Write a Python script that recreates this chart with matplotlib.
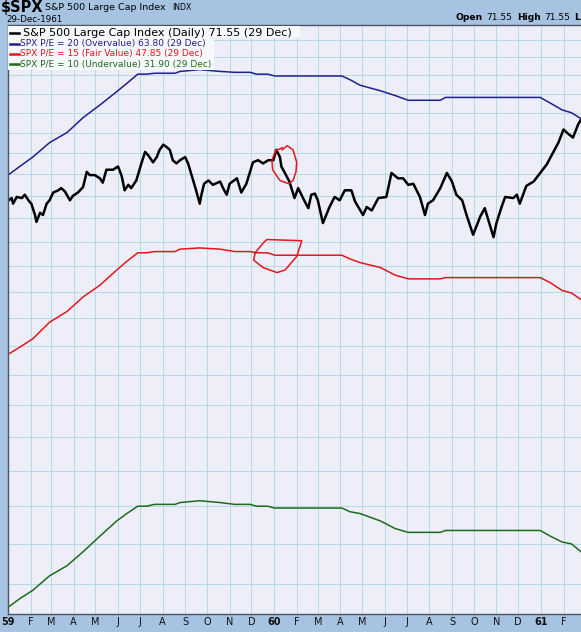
import matplotlib
matplotlib.use("Agg")
import matplotlib.pyplot as plt
from matplotlib.lines import Line2D
from matplotlib.patches import Rectangle
import numpy as np
import pandas as pd

# S&P 500 close
spx_dates = ["1959-01-02", "1959-01-06", "1959-01-08", "1959-01-13", "1959-01-20", "1959-01-24",
             "1959-01-29", "1959-02-02", "1959-02-07", "1959-02-09", "1959-02-14", "1959-02-18",
             "1959-02-23", "1959-02-27", "1959-03-04", "1959-03-11", "1959-03-15", "1959-03-20",
             "1959-03-27", "1959-03-31", "1959-04-07", "1959-04-14", "1959-04-19", "1959-04-23",
             "1959-04-30", "1959-05-07", "1959-05-11", "1959-05-16", "1959-05-25", "1959-06-01",
             "1959-06-06", "1959-06-10", "1959-06-15", "1959-06-19", "1959-06-26", "1959-07-03",
             "1959-07-08", "1959-07-12", "1959-07-19", "1959-07-24", "1959-07-28", "1959-08-02",
             "1959-08-06", "1959-08-11", "1959-08-15", "1959-08-20", "1959-08-25", "1959-09-01",
             "1959-09-05", "1959-09-12", "1959-09-16", "1959-09-21", "1959-09-23", "1959-09-27",
             "1959-10-03", "1959-10-09", "1959-10-19", "1959-10-23", "1959-10-28", "1959-11-01",
             "1959-11-11", "1959-11-17", "1959-11-24", "1959-12-03", "1959-12-10", "1959-12-17",
             "1959-12-24", "1959-12-31",
             "1960-01-04", "1960-01-09", "1960-01-11", "1960-01-15", "1960-01-22", "1960-01-29",
             "1960-02-03", "1960-02-12", "1960-02-17", "1960-02-21", "1960-02-26", "1960-03-01",
             "1960-03-08", "1960-03-17", "1960-03-24", "1960-03-31", "1960-04-07", "1960-04-16",
             "1960-04-21", "1960-05-02", "1960-05-07", "1960-05-14", "1960-05-23", "1960-06-03",
             "1960-06-10", "1960-06-19", "1960-06-26", "1960-07-03", "1960-07-10", "1960-07-19",
             "1960-07-26", "1960-07-30", "1960-08-06", "1960-08-16", "1960-08-25", "1960-09-01",
             "1960-09-07", "1960-09-15", "1960-09-21", "1960-09-30", "1960-10-10", "1960-10-16",
             "1960-10-28", "1960-11-01", "1960-11-08", "1960-11-13", "1960-11-24", "1960-11-29",
             "1960-12-03", "1960-12-12", "1960-12-22", "1960-12-31",
             "1961-01-09", "1961-01-16", "1961-01-25", "1961-02-01", "1961-02-07", "1961-02-14",
             "1961-02-21", "1961-02-25"]
spx_close = [55.6, 55.8, 55.3, 55.9, 55.8, 56.1,
             55.6, 55.3, 54.3, 53.7, 54.5, 54.3,
             55.3, 55.6, 56.3, 56.5, 56.7, 56.4,
             55.6, 56.0, 56.3, 56.8, 58.2, 57.9,
             57.9, 57.6, 57.2, 58.4, 58.4, 58.7,
             57.8, 56.5, 57.0, 56.7, 57.4, 59.0,
             60.1, 59.8, 59.1, 59.6, 60.3, 60.8,
             60.6, 60.3, 59.3, 59.0, 59.3, 59.6,
             59.0, 57.4, 56.5, 55.3, 56.0, 57.1,
             57.4, 57.0, 57.3, 56.7, 56.1, 57.1,
             57.6, 56.3, 57.1, 59.1, 59.3, 59.0,
             59.3, 59.3,
             60.3, 59.6, 58.7, 58.2, 57.3, 55.8,
             56.7, 55.5, 54.9, 56.1, 56.2, 55.6,
             53.6, 55.0, 55.9, 55.6, 56.5, 56.5,
             55.5, 54.3, 55.0, 54.7, 55.8, 55.9,
             58.1, 57.6, 57.6, 57.0, 57.1, 55.9,
             54.3, 55.3, 55.6, 56.7, 58.1, 57.3,
             56.1, 55.6, 54.3, 52.6, 54.2, 54.9,
             52.4, 53.6, 55.0, 55.9, 55.8, 56.1,
             55.3, 56.9, 57.3, 58.1,
             58.9, 59.8, 61.0, 62.3, 61.9, 61.5,
             62.8, 63.3]

# P/E bands
pe_dates = ["1959-01-01", "1959-01-17", "1959-02-04", "1959-02-27", "1959-03-23", "1959-04-14",
            "1959-05-07", "1959-05-30", "1959-06-13", "1959-06-28", "1959-07-10", "1959-07-21",
            "1959-08-18", "1959-08-25", "1959-09-21", "1959-10-19", "1959-11-08", "1959-11-29",
            "1959-12-08", "1959-12-23", "1960-01-02", "1960-04-03", "1960-04-14", "1960-04-28",
            "1960-05-26", "1960-06-15", "1960-07-03", "1960-08-16", "1960-08-23", "1960-12-31",
            "1961-01-14", "1961-01-30", "1961-02-12", "1961-02-25"]
pe20 = [57.9, 58.7, 59.6, 61.0, 62.0, 63.5, 64.8, 66.2, 67.1, 68.1, 68.1, 68.2, 68.2, 68.4, 68.6, 68.4, 68.3,
        68.3, 68.1, 68.1, 67.9, 67.9, 67.5, 66.9, 66.3, 65.8, 65.3, 65.3, 65.6, 65.6, 65.0, 64.3, 64.0, 63.4]
pe15 = [43.4, 43.9, 44.5, 45.7, 46.5, 47.6, 48.5, 49.7, 50.4, 51.1, 51.1, 51.2, 51.2, 51.4, 51.5, 51.4, 51.2,
        51.2, 51.1, 51.1, 50.9, 50.9, 50.6, 50.3, 49.9, 49.3, 49.0, 49.0, 49.1, 49.1, 48.7, 48.1, 47.9, 47.4]
pe10 = [28.9, 29.3, 29.7, 30.4, 30.9, 31.6, 32.4, 33.2, 33.6, 34.0, 34.0, 34.1, 34.1, 34.2, 34.3, 34.2, 34.1,
        34.1, 34.0, 34.0, 33.9, 33.9, 33.7, 33.6, 33.2, 32.8, 32.6, 32.6, 32.7, 32.7, 32.4, 32.1, 32.0, 31.6]

# hand-drawn red marks on the chart
mark1_dates = ["1960-01-12", "1960-01-19", "1960-01-27", "1960-02-01", "1960-01-31", "1960-01-27",
               "1960-01-21", "1960-01-09", "1959-12-30", "1959-12-29", "1960-01-03", "1960-01-12"]
mark1_vals = [60.3, 60.7, 60.3, 59.1, 58.2, 57.4, 57.1, 57.4, 58.4, 59.3, 60.2, 60.5]
mark2_dates = ["1959-12-06", "1959-12-17", "1959-12-22", "1960-02-08", "1960-02-01", "1960-01-16",
               "1960-01-05", "1959-12-17", "1959-12-04", "1959-12-06"]
mark2_vals = [51.1, 51.9, 52.2, 52.1, 50.8, 49.7, 49.5, 49.9, 50.5, 51.1]

legend_rows = ["S&P 500 Large Cap Index (Daily) 71.55 (29 Dec)",
               "SPX P/E = 20 (Overvalue) 63.80 (29 Dec)",
               "SPX P/E = 15 (Fair Value) 47.85 (29 Dec)",
               "SPX P/E = 10 (Undervalue) 31.90 (29 Dec)"]

BAND = "#A6C3E1"
PLOTBG = "#EDEEF7"
GRID = "#B2DAE8"
C_BLACK, C_BLUE, C_RED, C_GREEN = "#000000", "#1F1F8F", "#E3161C", "#1D6B1D"

W, H = 581, 632
def fx(px):
    return px / W
def fy(py):
    return 1 - py / H

fig = plt.figure(figsize=(W / 100, H / 100), dpi=100, facecolor=BAND)
ax = fig.add_axes([fx(8), fy(614), fx(573), (614 - 25) / H])
ax.set_facecolor(PLOTBG)

d_spx = pd.to_datetime(spx_dates)
d_pe = pd.to_datetime(pe_dates)

ax.plot(d_pe, pe20, color=C_BLUE, lw=1.1)
ax.plot(d_pe, pe15, color=C_RED, lw=1.1)
ax.plot(d_pe, pe10, color=C_GREEN, lw=1.1)
ax.plot(d_spx, spx_close, color=C_BLACK, lw=1.8)
ax.plot(pd.to_datetime(mark1_dates), mark1_vals, color="#E8141C", lw=1.1)
ax.plot(pd.to_datetime(mark2_dates), mark2_vals, color="#E8141C", lw=1.1)

ax.set_yscale("log")
ax.set_ylim(28.59, 73.7)
ax.set_xlim(pd.Timestamp("1959-01-01"), pd.Timestamp("1961-02-25"))
ax.yaxis.set_minor_locator(matplotlib.ticker.NullLocator())
ax.set_yticks(np.arange(30, 73, 2))
ax.set_yticklabels([])

months = pd.date_range("1959-01-01", "1961-02-01", freq="MS")
labels = [d.strftime("%y") if d.month == 1 else d.strftime("%b")[0] for d in months]
ax.set_xticks(months)
ax.set_xticklabels(labels)
for lab in ax.get_xticklabels():
    if lab.get_text().isdigit():
        lab.set_fontweight("bold")
ax.tick_params(axis="x", length=0, pad=2.5, labelsize=7, colors="#111111")
ax.tick_params(axis="y", length=0)
ax.grid(True, color=GRID, lw=0.7)
ax.set_axisbelow(True)
for s in ["left", "top", "bottom"]:
    ax.spines[s].set_color("#4B5563")
    ax.spines[s].set_linewidth(1.0)
ax.spines["right"].set_visible(False)

# legend box
fig.add_artist(Rectangle((fx(8), fy(38)), fx(292), 12 / H, transform=fig.transFigure,
                         facecolor="#F7F8FC", edgecolor="none", zorder=5))
fig.add_artist(Rectangle((fx(8), fy(70)), fx(206), 32 / H, transform=fig.transFigure,
                         facecolor="#F7F8FC", edgecolor="none", zorder=5))
row_y = [33, 43.5, 53.5, 64]
row_c = [C_BLACK, C_BLUE, C_RED, C_GREEN]
row_x = [23, 20, 20, 20]
row_fs = [8.0, 6.5, 6.5, 6.5]
for txt, yy, cc, xx, fs in zip(legend_rows, row_y, row_c, row_x, row_fs):
    fig.add_artist(Line2D([fx(10), fx(19)], [fy(yy), fy(yy)], transform=fig.transFigure,
                          color=cc, lw=1.8, zorder=6))
    fig.text(fx(xx), fy(yy), txt, color=cc, fontsize=fs, va="center", ha="left", zorder=6)

# header
fig.text(fx(1), fy(7.5), "$SPX", fontsize=10.5, fontweight="bold", va="center", ha="left")
fig.text(fx(45), fy(7), "S&P 500 Large Cap Index", fontsize=6.8, va="center", ha="left")
fig.text(fx(172), fy(7.5), "INDX", fontsize=5.6, va="center", ha="left")
fig.text(fx(6), fy(19), "29-Dec-1961", fontsize=6.3, va="center", ha="left")
fig.text(fx(455), fy(18), "Open", fontsize=6.6, fontweight="bold", va="center", ha="left")
fig.text(fx(486), fy(18), "71.55", fontsize=6.6, va="center", ha="left")
fig.text(fx(517), fy(18), "High", fontsize=6.6, fontweight="bold", va="center", ha="left")
fig.text(fx(544), fy(18), "71.55", fontsize=6.6, va="center", ha="left")
fig.text(fx(574), fy(18), "L", fontsize=6.6, fontweight="bold", va="center", ha="left")

fig.savefig("out.png", dpi=100, facecolor=BAND)
